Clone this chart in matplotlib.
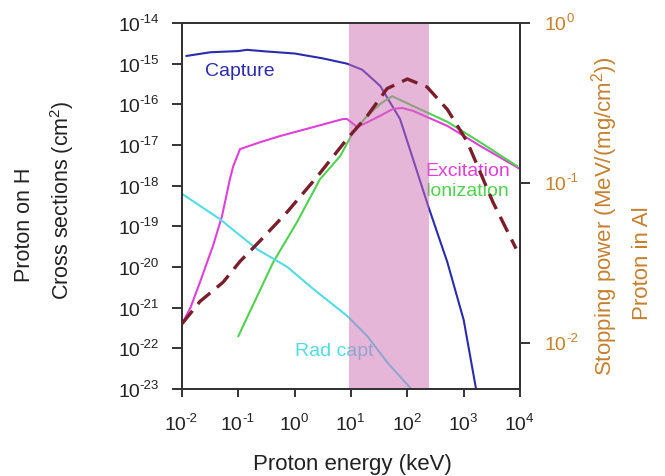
import numpy as np
import matplotlib
matplotlib.use("Agg")
import matplotlib.pyplot as plt
from matplotlib.transforms import IdentityTransform

plt.rcParams['font.family'] = ['Liberation Sans', 'DejaVu Sans']
plt.rcParams['mathtext.fontset'] = 'custom'
plt.rcParams['mathtext.rm'] = 'Liberation Sans'
plt.rcParams['mathtext.it'] = 'Liberation Sans'

# --- data (log10 values) ---
capture_logE = [-1.92, -1.5, -1.0, -0.85, -0.5, 0.0, 0.5, 0.93, 1.2, 1.52, 1.87, 2.1, 2.37, 2.71, 3.0, 3.22]
capture_logS = [-14.81, -14.72, -14.69, -14.66, -14.7, -14.75, -14.87, -15.0, -15.15, -15.55, -16.36, -17.34, -18.5, -19.88, -21.3, -23.0]

exc_logE = [-2.0, -1.85, -1.68, -1.45, -1.29, -1.15, -1.09, -0.97, -0.61, -0.26, 0.33, 0.86, 0.93, 1.11, 1.29, 1.52, 1.75, 1.91, 2.1, 2.71, 3.29, 4.0]
exc_logS = [-21.4, -21.0, -20.37, -19.48, -18.75, -17.84, -17.52, -17.1, -16.93, -16.78, -16.56, -16.36, -16.36, -16.56, -16.44, -16.28, -16.11, -16.09, -16.16, -16.53, -17.02, -17.59]

ion_logE = [-1.0, -0.38, 0.04, 0.45, 0.81, 1.04, 1.29, 1.52, 1.73, 2.1, 2.71, 3.29, 3.95]
ion_logS = [-21.7, -19.88, -18.9, -17.84, -17.27, -16.68, -16.28, -15.99, -15.8, -16.04, -16.43, -16.93, -17.52]

rad_logE = [-2.0, -1.33, -0.67, -0.13, 0.33, 0.93, 1.29, 1.64, 2.07]
rad_logS = [-18.2, -18.82, -19.56, -20.0, -20.54, -21.2, -21.7, -22.34, -23.0]

stop_logE = [-2.0, -1.68, -1.27, -0.97, -0.61, -0.13, 0.4, 0.93, 1.29, 1.64, 2.0, 2.35, 2.71, 3.06, 3.52, 3.93]
stop_logS = [-1.88, -1.74, -1.62, -1.49, -1.36, -1.18, -0.96, -0.725, -0.58, -0.41, -0.35, -0.4, -0.54, -0.74, -1.12, -1.41]

band_keV = [9.2, 245.0]

x_exps = [-2, -1, 0, 1, 2, 3, 4]
yl_exps = [-23, -22, -21, -20, -19, -18, -17, -16, -15, -14]
yr_exps = [-2, -1, 0]

def p(v):
    return 10.0 ** np.array(v)

W, H = 665, 477
fig = plt.figure(figsize=(W / 100, H / 100), dpi=100)
ax = fig.add_axes([182 / W, 1 - 390 / H, (520 - 182) / W, (390 - 24) / H])
ax2 = ax.twinx()

c_cap = '#2b2bae'
c_exc = '#e040d8'
c_ion = '#4fd24f'
c_rad = '#52dde3'
c_stop = '#7a1e2c'
c_right = '#c5812e'
c_txt = '#222222'

ax.plot(p(capture_logE), p(capture_logS), color=c_cap, lw=1.5, zorder=2)
ax.plot(p(exc_logE), p(exc_logS), color=c_exc, lw=1.5, zorder=2)
ax.plot(p(ion_logE), p(ion_logS), color=c_ion, lw=1.5, zorder=2)
ax.plot(p(rad_logE), p(rad_logS), color=c_rad, lw=1.5, zorder=2)
ax.axvspan(band_keV[0], band_keV[1], color='#cf6fb5', alpha=0.5, lw=0, zorder=3)

ax.set_xscale('log')
ax.set_yscale('log')
ax.set_xlim(1e-2, 1e4)
ax.set_ylim(1e-23, 1e-14)
ax.set_xticks(p(x_exps))
ax.set_yticks(p(yl_exps))
ax.set_xticklabels([])
ax.set_yticklabels([])
ax.minorticks_off()

ax2.plot(p(stop_logE), p(stop_logS), color=c_stop, lw=2.4, dashes=(5, 2.6), zorder=4)
ax2.set_yscale('log')
ax2.set_ylim(10 ** (-(390 - 24) / 160), 1e0)
ax2.set_yticks(p(yr_exps))
ax2.set_yticklabels([])
ax2.minorticks_off()

for a in (ax, ax2):
    for s in a.spines.values():
        s.set_color('#333333')
        s.set_linewidth(1.4)
ax.tick_params(axis='y', which='major', direction='out', length=7, width=1.4, color='#333333')
ax.tick_params(axis='x', which='major', direction='out', length=6, width=1.4, color='#333333')
ax2.tick_params(axis='y', which='major', direction='out', length=7, width=1.4, color='#333333')

# --- tick labels drawn as "10" + superscript, in pixel coordinates ---
ident = IdentityTransform()
renderer = fig.canvas.get_renderer()
BASE, SUP = 14, 9.5
GAP = -0.5

def width(s, size):
    t = fig.text(0, 0, s, fontsize=size, transform=ident)
    w = t.get_window_extent(renderer).width
    t.remove()
    return w

w10 = width('10', BASE)

for k in yl_exps:
    ty = ax.transData.transform((1e-2, 10.0 ** k))[1]
    e = '%d' % k
    ws = width(e, SUP)
    xr = 159
    fig.text(xr, ty + 1, e, fontsize=SUP, ha='right', va='baseline', color=c_txt, transform=ident)
    fig.text(xr - ws - GAP, ty - 7, '10', fontsize=BASE, ha='right', va='baseline', color=c_txt,
             transform=ident)

for k in x_exps:
    tx = ax.transData.transform((10.0 ** k, 1e-23))[0]
    e = '%d' % k
    ws = width(e, SUP)
    total = w10 + GAP + ws
    xl = tx - total / 2 - 1
    fig.text(xl, H - 430, '10', fontsize=BASE, ha='left', va='baseline', color=c_txt, transform=ident)
    fig.text(xl + w10 + GAP, H - 422, e, fontsize=SUP, ha='left', va='baseline', color=c_txt,
             transform=ident)

for k in yr_exps:
    ty = ax2.transData.transform((1e-2, 10.0 ** k))[1]
    e = '%d' % k
    xl = 544
    fig.text(xl, ty - 6, '10', fontsize=BASE, ha='left', va='baseline', color=c_right, transform=ident)
    fig.text(xl + w10 + 0.3, ty + 2, e, fontsize=SUP, ha='left', va='baseline', color=c_right,
             transform=ident)

# --- axis titles ---
fig.text(352, H - 470, 'Proton energy (keV)', fontsize=16, ha='center', va='baseline', color=c_txt,
         transform=ident)
fig.text(25, H - 225, 'Proton on H', rotation=90, ha='center', va='center', fontsize=15.5,
         color=c_txt, transform=ident)
fig.text(62, H - 200, 'Cross sections (cm$^{2}$)', rotation=90, ha='center', va='center',
         fontsize=15.5, color=c_txt, transform=ident)
fig.text(605, H - 216, 'Stopping power (MeV/(mg/cm$^{2}$))', rotation=90, ha='center',
         va='center', fontsize=16, color=c_right, transform=ident)
fig.text(643, H - 263, 'Proton in Al', rotation=90, ha='center', va='center', fontsize=16,
         color=c_right, transform=ident)

# --- curve labels ---
def lx(px):
    return 10 ** (-2 + (px - 182) / 56.33)

def ly(py):
    return 10 ** (-14 - (py - 24) / 40.67)

ax.text(lx(205), ly(76), 'Capture', color=c_cap, fontsize=14, ha='left', va='baseline', zorder=1)
ax.text(lx(425), ly(176), 'Excitation', color=c_exc, fontsize=14, ha='left', va='baseline', zorder=1)
ax.text(lx(425), ly(196), 'Ionization', color=c_ion, fontsize=14, ha='left', va='baseline', zorder=1)
ax.text(lx(295), ly(356), 'Rad capt', color=c_rad, fontsize=14, ha='left', va='baseline', zorder=1)

fig.savefig('out.png', dpi=100)
